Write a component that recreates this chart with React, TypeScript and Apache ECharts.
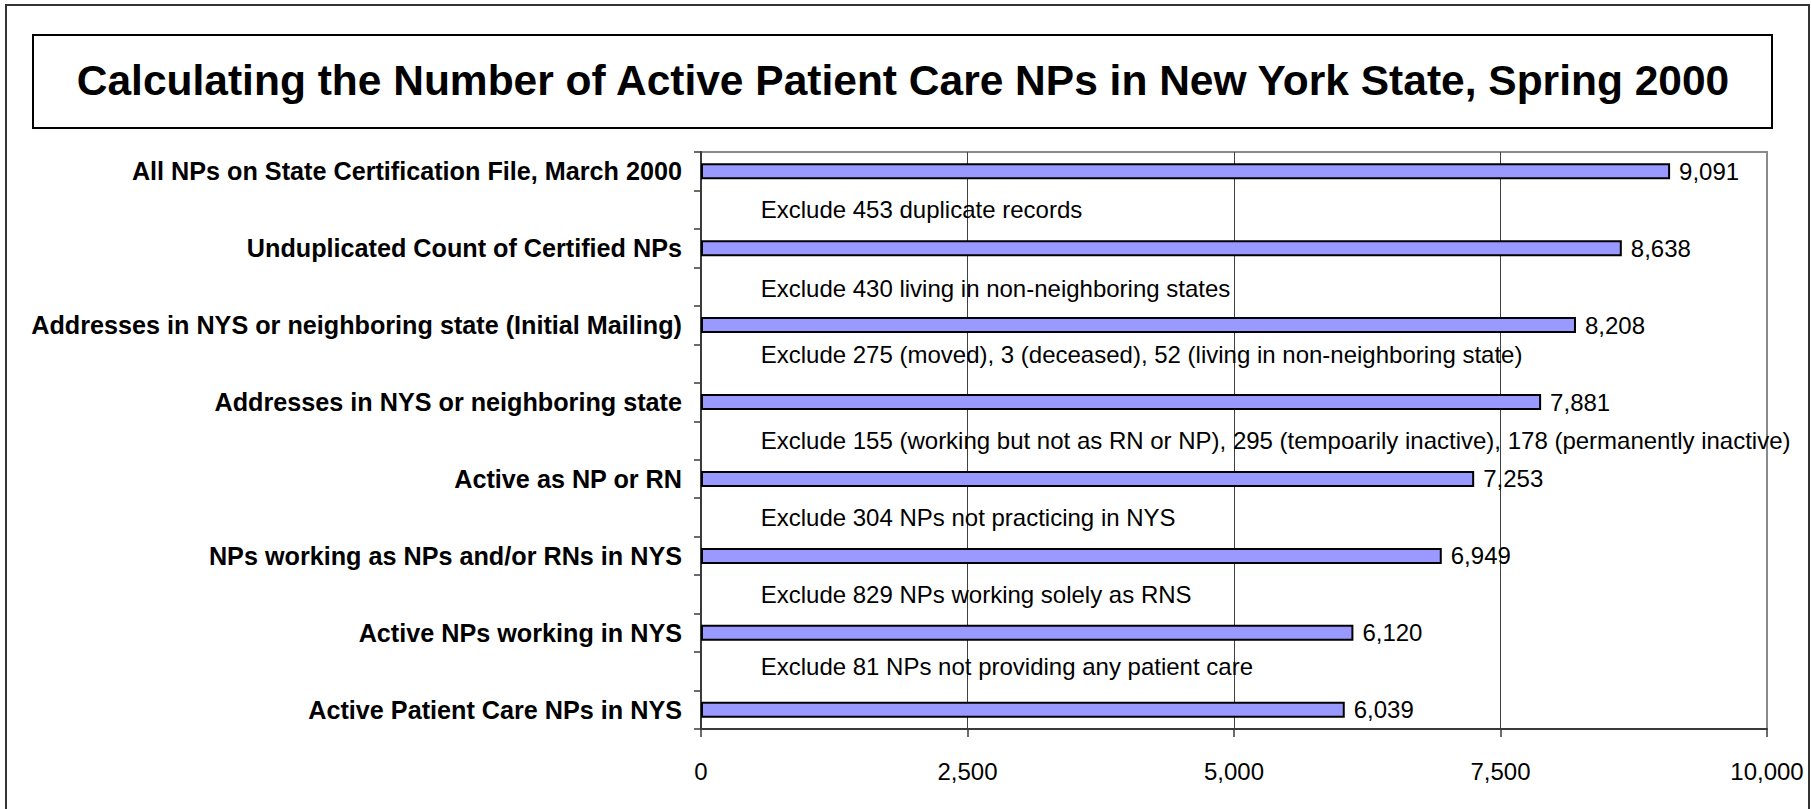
import React, { useEffect, useRef } from "react";
import * as echarts from "echarts";

const categories: string[] = [
  "All NPs on State Certification File, March 2000",
  "",
  "Unduplicated Count of Certified NPs",
  "",
  "Addresses in NYS or neighboring state (Initial Mailing)",
  "",
  "Addresses in NYS or neighboring state",
  "",
  "Active as NP or RN",
  "",
  "NPs working as NPs and/or RNs in NYS",
  "",
  "Active NPs working in NYS",
  "",
  "Active Patient Care NPs in NYS",
];

const counts: (number | null)[] = [
  9091, null, 8638, null, 8208, null, 7881, null, 7253, null, 6949, null, 6120, null, 6039,
];

const exclusions: (string | null)[] = [
  null,
  "Exclude 453 duplicate records",
  null,
  "Exclude 430 living in non-neighboring states",
  null,
  "Exclude 275 (moved), 3 (deceased), 52 (living in non-neighboring state)",
  null,
  "Exclude 155 (working but not as RN or NP), 295 (tempoarily inactive), 178 (permanently inactive)",
  null,
  "Exclude 304 NPs not practicing in NYS",
  null,
  "Exclude 829 NPs working solely as RNS",
  null,
  "Exclude 81 NPs not providing any patient care",
  null,
];

const xTicks: number[] = [0, 2500, 5000, 7500, 10000];

const TITLE = "Calculating the Number of Active Patient Care NPs in New York State, Spring 2000";
const FONT = "'Liberation Sans', Arial, Helvetica, sans-serif";

// style-only vertical nudges (px) for a few annotation text boxes
const labelNudge: Record<number, number> = { 3: 2, 5: -9, 13: -5 };

const fmt = (v: number) => v.toLocaleString("en-US");

export default function App() {
  const ref = useRef<HTMLDivElement>(null);

  useEffect(() => {
    document.body.style.margin = "0";
    if (!ref.current) return;
    const chart = echarts.init(ref.current, undefined, { renderer: "svg" });
    const excludeX = 560;
    const excludeData = exclusions
      .map((t, i) =>
        t
          ? {
              value: [excludeX, i],
              name: t,
              label: { offset: [0, labelNudge[i] || 0] },
            }
          : null
      )
      .filter((d) => d !== null);

    chart.setOption({
      animation: false,
      backgroundColor: "#ffffff",
      textStyle: { fontFamily: FONT },
      grid: {
        left: 701,
        top: 152,
        right: 44,
        bottom: 80,
        containLabel: false,
        show: true,
        borderColor: "#8a8a8a",
        borderWidth: 2,
        backgroundColor: "transparent",
      },
      xAxis: {
        type: "value",
        min: xTicks[0],
        max: xTicks[xTicks.length - 1],
        interval: 2500,
        axisLine: { show: true, lineStyle: { color: "#3a3a3a", width: 2 } },
        axisTick: { show: true, length: 8, lineStyle: { color: "#3a3a3a", width: 1.5 } },
        axisLabel: {
          color: "#000",
          fontSize: 24,
          fontFamily: FONT,
          margin: 30,
          formatter: (v: number) => fmt(v),
        },
        splitLine: {
          show: true,
          showMinLine: false,
          showMaxLine: false,
          lineStyle: { color: "#404040", width: 1 },
        },
      },
      yAxis: {
        type: "category",
        inverse: true,
        data: categories,
        axisLine: { show: true, lineStyle: { color: "#3a3a3a", width: 2 } },
        axisTick: { show: true, length: 7, interval: 0, lineStyle: { color: "#3a3a3a", width: 1.5 } },
        axisLabel: {
          interval: 0,
          color: "#000",
          fontSize: 25.2,
          fontWeight: "bold",
          fontFamily: FONT,
          margin: 19,
        },
        splitLine: { show: false },
      },
      series: [
        {
          type: "bar",
          data: counts,
          barWidth: 16,
          itemStyle: { color: "#9999FF", borderColor: "#000", borderWidth: 2 },
          label: {
            show: true,
            position: "right",
            distance: 9,
            color: "#000",
            fontSize: 24,
            fontFamily: FONT,
            formatter: (p: any) => fmt(p.value),
          },
        },
        {
          type: "scatter",
          data: excludeData,
          symbolSize: 0,
          itemStyle: { color: "#000", opacity: 1 },
          label: {
            show: true,
            position: "right",
            distance: 0,
            color: "#000",
            opacity: 1,
            fontSize: 24,
            fontFamily: FONT,
            formatter: (p: any) => p.name,
          },
          z: 5,
        },
      ],
      graphic: [
        {
          type: "rect",
          shape: { x: 6, y: 5, width: 1803, height: 830 },
          style: { fill: "none", stroke: "#333", lineWidth: 2 },
          silent: true,
        },
        {
          type: "rect",
          shape: { x: 33, y: 35, width: 1739, height: 93 },
          style: { fill: "none", stroke: "#000", lineWidth: 2 },
          silent: true,
        },
        {
          type: "text",
          x: 903,
          y: 80,
          style: {
            text: TITLE,
            fill: "#000",
            font: `bold 42.5px ${FONT}`,
            textAlign: "center",
            textVerticalAlign: "middle",
          },
          silent: true,
        },
      ],
    });
    return () => chart.dispose();
  }, []);

  return <div ref={ref} style={{ width: 1811, height: 809 }} />;
}
